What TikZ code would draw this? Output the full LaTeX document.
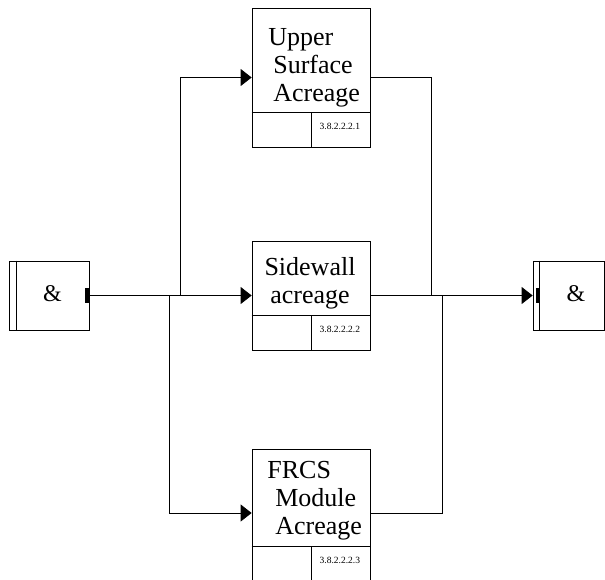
\documentclass[tikz,border=0pt]{standalone}
\usepackage{fontspec}
\setmainfont{Liberation Serif}
\usetikzlibrary{arrows.meta}
\tikzset{
taskbox/.style={draw,minimum width=118pt,inner sep=0pt},
tasktitle/.style={font=\fontsize{26}{28}\selectfont,inner sep=0pt},
tasknum/.style={font=\fontsize{9.5}{10}\selectfont,inner sep=0pt,anchor=east},
andbox/.style={draw,minimum height=69pt,inner sep=0pt},
andsym/.style={font=\fontsize{24}{26}\selectfont,inner sep=0pt},
flow/.style={-{Triangle[length=11pt,width=17pt]}}
}
\begin{document}
\begin{tikzpicture}[x=1pt,y=-1pt,line width=0.75pt]
\useasboundingbox (0,0) rectangle (605,579);
% junctions
\node[andbox,minimum width=80pt] (andin) at (49,295.5) {};
\draw ([xshift=8pt]andin.north west) -- ([xshift=8pt]andin.south west);
\node[andsym] (andinsym) at (52.5,294) {\&};
\fill ([xshift=-4pt,yshift=-7.5pt]andin.east) rectangle ([yshift=7.5pt]andin.east);

\node[andbox,minimum width=71pt] (andout) at (568.5,295.5) {};
\draw ([xshift=7pt]andout.north west) -- ([xshift=7pt]andout.south west);
\node[andsym] (andoutsym) at (576,294) {\&};
\fill ([xshift=3pt,yshift=-7.5pt]andout.west) rectangle ([xshift=7pt,yshift=7.5pt]andout.west);

% tasks
\node[taskbox,minimum height=139pt] (upper) at (311,77.5) {};
\node[taskbox,minimum height=109pt] (side) at (311,295.5) {};
\node[taskbox,minimum height=132pt] (frcs) at (311,515) {};
\foreach \t/\n in {upper/1,side/2,frcs/3}{
  \draw ([yshift=35pt]\t.south west) -- ([yshift=35pt]\t.south east);
  \draw ([yshift=35pt]\t.south) -- (\t.south);
  \node[tasknum] (\t num) at ([xshift=-10pt,yshift=21pt]\t.south east) {3.8.2.2.2.\n};
}
\node[tasktitle,align=left,anchor=north west] (uppertxt) at (268,28) {Upper\\\hspace*{5pt}Surface\\\hspace*{5pt}Acreage};
\node[tasktitle,align=center,anchor=north] (sidetxt) at (310,257) {Sidewall\\acreage};
\node[tasktitle,align=left,anchor=north west] (frcstxt) at (267,461) {FRCS\\\hspace*{8pt}Module\\\hspace*{8pt}Acreage};

% connectors
\coordinate (forkup) at (180,295.5);
\coordinate (forkdn) at (169,295.5);
\coordinate (joinup) at (431,295.5);
\coordinate (joindn) at (442,295.5);
\draw[flow] (andin.east) -- (side.west);
\draw[flow] (forkup) |- (upper.west);
\draw[flow] (forkdn) |- ([yshift=2pt]frcs.west);
\draw (upper.east) -| (joinup);
\draw ([yshift=2pt]frcs.east) -| (joindn);
\draw[flow] (side.east) -- (andout.west);
\end{tikzpicture}
\end{document}
